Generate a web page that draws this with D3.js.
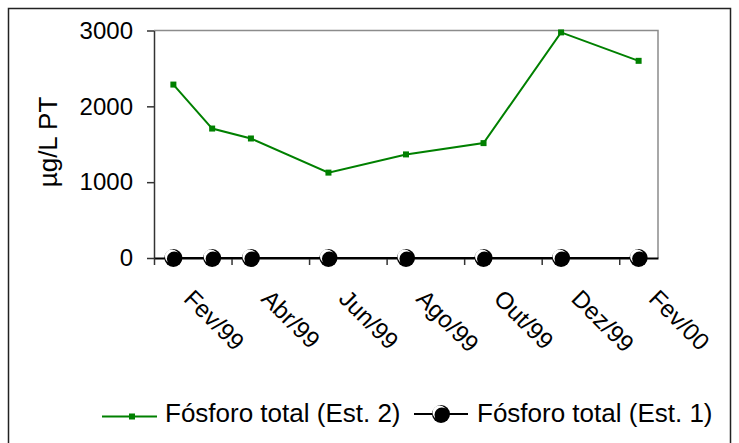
<!DOCTYPE html>
<html>
<head>
<meta charset="utf-8">
<script src="https://cdn.jsdelivr.net/npm/d3@7"></script>
<style>
  body { margin: 0; background: #fff; }
  svg { display: block; font-family: Arial, "Liberation Sans", sans-serif; }
</style>
</head>
<body>
<div class="chart"></div>
<script>
// sampling months, counted from Fev/99
var sampleMonths = [0, 1, 2, 4, 6, 8, 10, 12];
var est2 = [2287, 1707, 1576, 1126, 1366, 1515, 2975, 2600];
var est1 = [0, 0, 0, 0, 0, 0, 0, 0];
var labelMonths = [0, 2, 4, 6, 8, 10, 12];
var tickLabels = ["Fev/99", "Abr/99", "Jun/99", "Ago/99", "Out/99", "Dez/99", "Fev/00"];
var yTicks = [0, 1000, 2000, 3000];

var svgWidth = 739;
var svgHeight = 443;

var margin = { top: 30.5, left: 154, right: 81, bottom: 185 };
var width = svgWidth - margin.left - margin.right;
var height = svgHeight - margin.top - margin.bottom;

var svg = d3.select(".chart")
  .append("svg")
  .attr("width", svgWidth)
  .attr("height", svgHeight);

// outer frame
svg.append("rect")
  .attr("x", 8.5).attr("y", 8.5)
  .attr("width", 722).attr("height", 460)
  .attr("fill", "none")
  .attr("stroke", "#222")
  .attr("stroke-width", 1.5);

var chartGroup = svg.append("g")
  .attr("transform", `translate(${margin.left}, ${margin.top})`);

var x = d3.scaleLinear().domain([-0.5, 12.5]).range([0, width]);
var y = d3.scaleLinear().domain([0, 3000]).range([height, 0]);

// plot area border (grey top/right)
chartGroup.append("path")
  .attr("d", `M0,0H${width}V${height}`)
  .attr("fill", "none")
  .attr("stroke", "#8c8c8c")
  .attr("stroke-width", 1.5);

// y axis
var leftAxis = d3.axisLeft(y).tickValues(yTicks).tickFormat(d3.format("d"))
  .tickSize(7).tickSizeOuter(0).tickPadding(14);
var yg = chartGroup.append("g").call(leftAxis);
yg.selectAll("text").style("font-size", "24px").attr("fill", "#000");
yg.selectAll("line, path").attr("stroke", "#333").attr("stroke-width", 1.5);

// x axis: ticks between every two months
var bottomAxis = d3.axisBottom(x)
  .tickValues([-0.5, 1.5, 3.5, 5.5, 7.5, 9.5, 11.5])
  .tickSize(7).tickSizeOuter(0).tickFormat("");
var xg = chartGroup.append("g")
  .attr("transform", `translate(0, ${height})`)
  .call(bottomAxis);
xg.selectAll("line").attr("stroke", "#333").attr("stroke-width", 1.5);
xg.select("path").attr("stroke", "#000").attr("stroke-width", 2);

// rotated month labels
chartGroup.selectAll(".xlab")
  .data(labelMonths)
  .enter()
  .append("text")
  .attr("class", "xlab")
  .attr("transform", (d) => `translate(${x(d) + 9}, ${height + 42}) rotate(45)`)
  .style("font-size", "24px")
  .text((d, i) => tickLabels[i]);

// y axis title
chartGroup.append("text")
  .attr("transform", "rotate(-90)")
  .attr("x", -(142 - margin.top))
  .attr("y", 57 - margin.left)
  .attr("text-anchor", "middle")
  .style("font-size", "26px")
  .text("µg/L PT");

var green = "#008000";

// Est. 2 line
var pts2 = sampleMonths.map((m, i) => [x(m), y(est2[i])]);
chartGroup.append("path")
  .attr("d", d3.line()(pts2))
  .attr("fill", "none")
  .attr("stroke", green)
  .attr("stroke-width", 2);
chartGroup.selectAll(".sq")
  .data(pts2)
  .enter()
  .append("rect")
  .attr("x", d => d[0] - 3).attr("y", d => d[1] - 3)
  .attr("width", 6).attr("height", 6)
  .attr("fill", green);

// Est. 1 line
var pts1 = sampleMonths.map((m, i) => [x(m), y(est1[i])]);
chartGroup.append("path")
  .attr("d", d3.line()(pts1))
  .attr("fill", "none")
  .attr("stroke", "#000")
  .attr("stroke-width", 2);

function ball(g, cx, cy) {
  g.append("circle").attr("cx", cx).attr("cy", cy).attr("r", 9).attr("fill", "#000");
  g.append("circle").attr("cx", cx - 1.5).attr("cy", cy - 1.5).attr("r", 7).attr("fill", "#fff");
  g.append("circle").attr("cx", cx + 0.8).attr("cy", cy + 0.8).attr("r", 7.3).attr("fill", "#000");
}
pts1.forEach(p => ball(chartGroup, p[0], p[1]));

// legend
var legend = svg.append("g");
legend.append("line")
  .attr("x1", 102).attr("x2", 157).attr("y1", 416.5).attr("y2", 416.5)
  .attr("stroke", green).attr("stroke-width", 2);
legend.append("rect")
  .attr("x", 129).attr("y", 413.5).attr("width", 6).attr("height", 6)
  .attr("fill", green);
legend.append("text")
  .attr("x", 165).attr("y", 422)
  .style("font-size", "26px")
  .text("Fósforo total (Est. 2)");

legend.append("line")
  .attr("x1", 414).attr("x2", 468).attr("y1", 414).attr("y2", 414)
  .attr("stroke", "#000").attr("stroke-width", 2);
ball(legend, 441, 414);
legend.append("text")
  .attr("x", 477).attr("y", 422)
  .style("font-size", "26px")
  .text("Fósforo total (Est. 1)");
</script>
</body>
</html>
